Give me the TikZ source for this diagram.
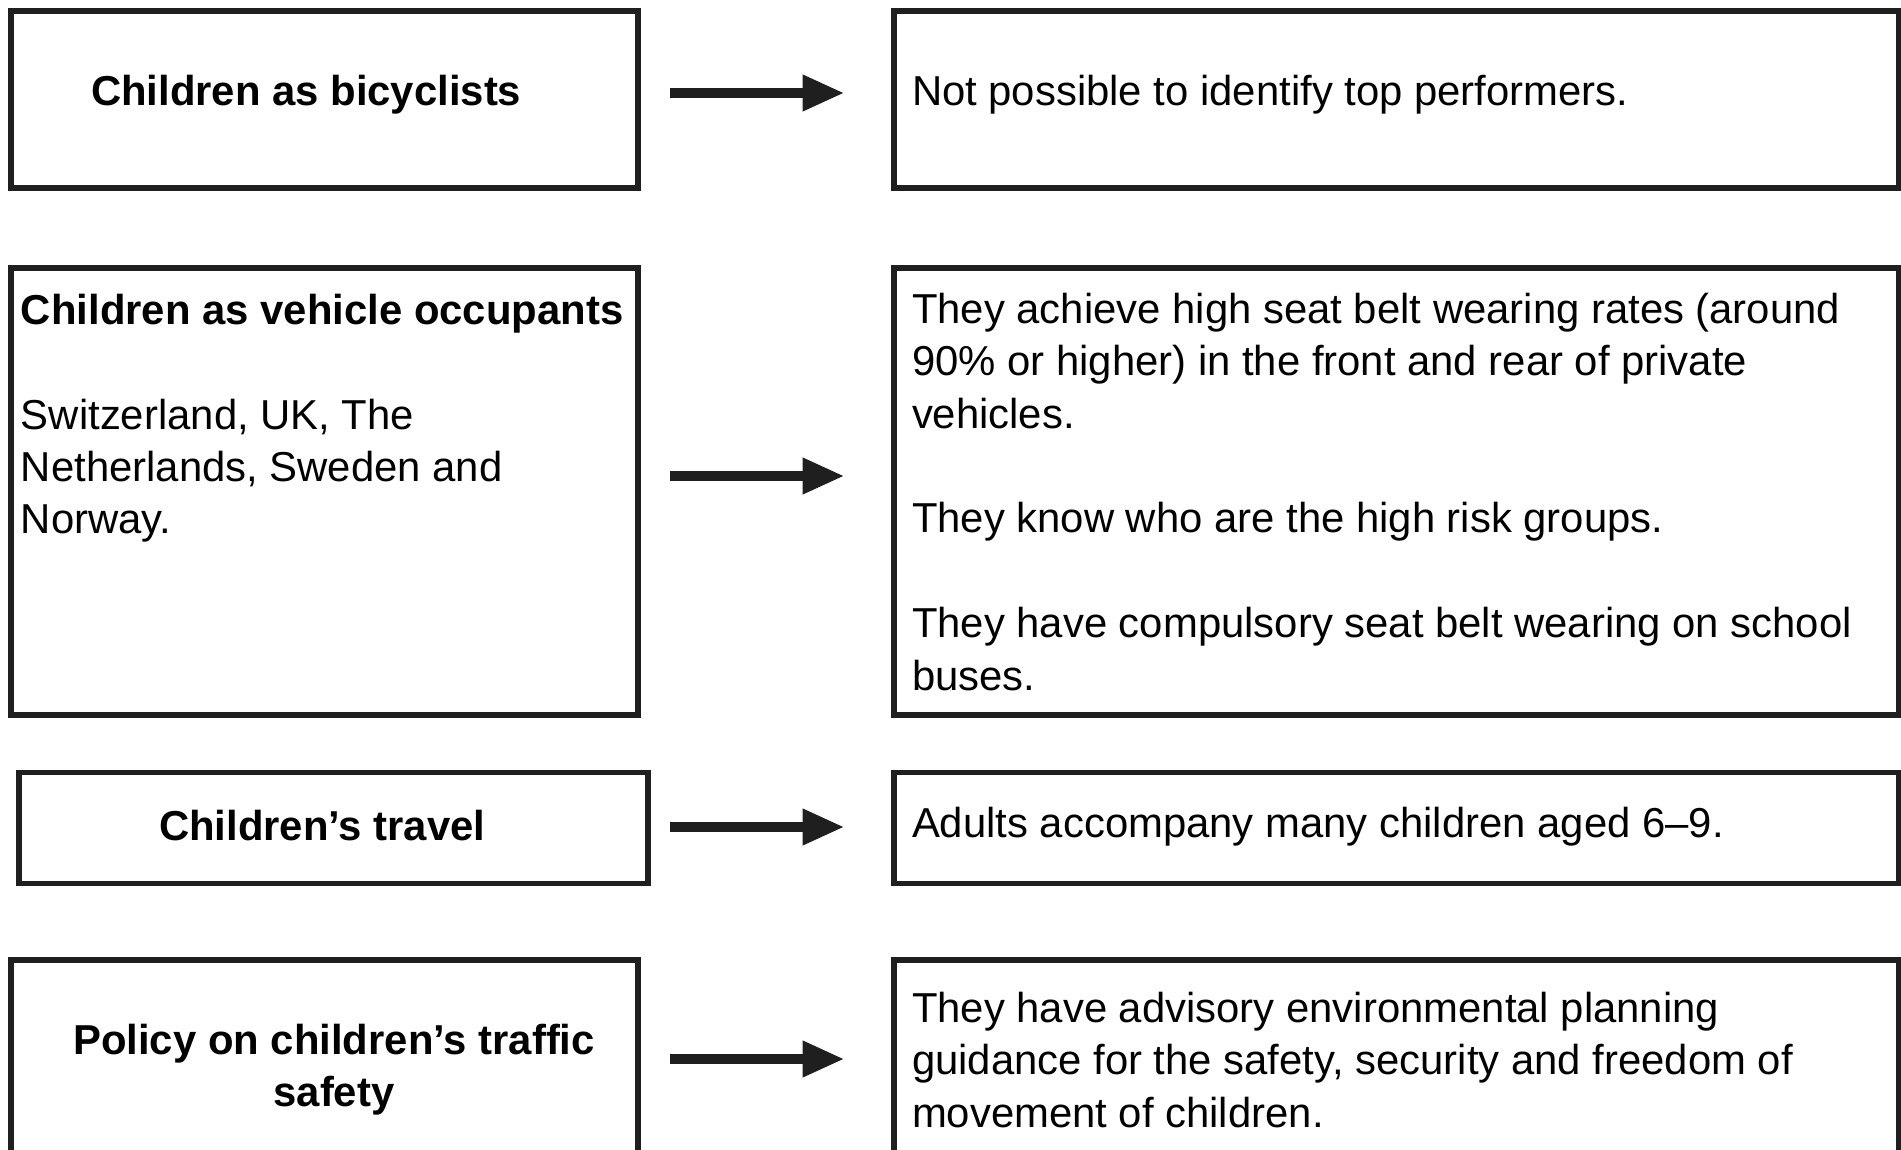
\documentclass[tikz,border=0pt]{standalone}
\usepackage{fontspec}
\setmainfont{Liberation Sans}
\usepackage{tikz}
\usetikzlibrary{positioning,arrows.meta}

\tikzset{
  box/.style={draw=black!88, line width=1.6pt, inner sep=0pt, outer sep=0pt},
  txt/.style={inner sep=0pt, outer sep=0pt, anchor=north west, align=left, font=\fontsize{11.9}{14.9}\selectfont},
  fatarrow/.style={draw=black!88, line width=3.1pt, -{Triangle[length=12pt,width=9.6pt]}}
}

\begin{document}
\begin{tikzpicture}[x=0.01cm, y=-0.01cm]
        \useasboundingbox (0,0) rectangle (1901,1149);
        \clip (0,0) rectangle (1901,1149);

        % Row 1: bicyclists
        \node[box, minimum width=6.27cm, minimum height=1.77cm] (lbike) at (324.5,99.5) {};
        \node[box, minimum width=10.04cm, minimum height=1.77cm] (rbike) at (1396,99.5) {};
        \node[txt] (lbiketxt) at (91,75) {\bfseries Children as bicyclists};
        \node[txt] (rbiketxt) at (912,75) {Not possible to identify top performers.};
        \draw[fatarrow] ([shift={(32,-6.5)}]lbike.east) -- ([shift={(-49,-6.5)}]rbike.west);

        % Row 2: vehicle occupants
        \node[box, minimum width=6.27cm, minimum height=4.47cm] (lcar) at (324.5,491.5) {};
        \node[box, minimum width=10.04cm, minimum height=4.47cm] (rcar) at (1396,491.5) {};
        \node[txt] (lcartxt) at (21,294) {{\bfseries Children as vehicle occupants}\\[14.9pt]
            Switzerland, UK, The\\ Netherlands, Sweden and\\ Norway.};
        \node[txt] (rcartxt) at (912,293) {They achieve high seat belt wearing rates (around\\
            90\% or higher) in the front and rear of private\\ vehicles.\\[14.9pt]
            They know who are the high risk groups.\\[14.9pt]
            They have compulsory seat belt wearing on school\\ buses.};
        \draw[fatarrow] ([shift={(32,-15.5)}]lcar.east) -- ([shift={(-49,-15.5)}]rcar.west);

        % Row 3: travel
        \node[box, minimum width=6.29cm, minimum height=1.11cm] (ltrav) at (333.5,828) {};
        \node[box, minimum width=10.04cm, minimum height=1.11cm] (rtrav) at (1396,828) {};
        \node[txt] (ltravtxt) at (159,810) {\bfseries Children's travel};
        \node[txt] (rtravtxt) at (912,807) {Adults accompany many children aged 6--9.};
        \draw[fatarrow] ([shift={(22,-1)}]ltrav.east) -- ([shift={(-49,-1)}]rtrav.west);

        % Row 4: policy
        \node[box, minimum width=6.27cm, minimum height=2.4cm] (lpol) at (324.5,1080) {};
        \node[box, minimum width=10.04cm, minimum height=2.4cm] (rpol) at (1396,1080) {};
        \node[txt, anchor=north, align=center] (lpoltxt) at (334,1024) {\bfseries Policy on children's traffic\\ \bfseries safety};
        \node[txt] (rpoltxt) at (912,992) {They have advisory environmental planning\\
            guidance for the safety, security and freedom of\\ movement of children.};
        \draw[fatarrow] ([shift={(32,-21)}]lpol.east) -- ([shift={(-49,-21)}]rpol.west);
    \end{tikzpicture}
\end{document}
